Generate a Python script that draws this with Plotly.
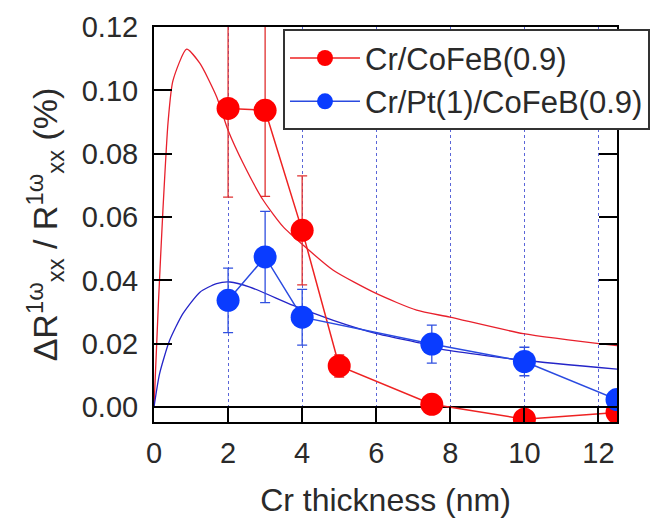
import plotly.graph_objects as go

# ---- data ----
thickness = [2, 3, 4, 5, 7.5, 10, 12.5]
cofeb_vals = [0.0943, 0.0937, 0.0558, 0.0130, 0.0009, -0.0038, -0.0017]
cofeb_err = [0.0280, 0.0272, 0.0172, 0.0035, 0.0, 0.0, 0.0]

thickness_pt = [2, 3, 4, 7.5, 10, 12.5]
pt_vals = [0.0337, 0.0474, 0.0284, 0.0199, 0.0144, 0.0024]
pt_err = [0.0102, 0.0144, 0.0088, 0.0060, 0.0045, 0.0]

# fitted curves
fit_cofeb_x = [0, 0.12, 0.24, 0.38, 0.51, 0.88, 1.24, 1.69, 2.0, 2.41, 2.95, 3.49,
               4.03, 4.84, 6.01, 7.09, 7.99, 9.97, 12.5]
fit_cofeb_y = [0, 0.033, 0.062, 0.090, 0.103, 0.113, 0.1085, 0.098, 0.0874, 0.0769,
               0.0653, 0.0569, 0.0511, 0.0432, 0.0358, 0.0306, 0.0284, 0.0232, 0.0194]

fit_pt_x = [0, 0.15, 0.42, 0.78, 1.24, 1.69, 2.05, 2.59, 3.76, 4.84, 6.01, 7.27,
            7.72, 9.97, 12.5]
fit_pt_y = [0, 0.0105, 0.021, 0.0295, 0.0363, 0.039, 0.0395, 0.0379, 0.0321, 0.0274,
            0.0232, 0.020, 0.0184, 0.0148, 0.0120]

x_ticks = [0, 2, 4, 6, 8, 10, 12]
y_ticks = [0.00, 0.02, 0.04, 0.06, 0.08, 0.10, 0.12]

names = ["Cr/CoFeB(0.9)", "Cr/Pt(1)/CoFeB(0.9)"]

FONT = "Liberation Sans, Arial, sans-serif"
TXT = "#2a2a2a"
RED = "#ff0000"
BLUE = "#0a3cff"

fig = go.Figure()

fig.add_trace(go.Scatter(x=fit_cofeb_x, y=fit_cofeb_y, mode="lines",
                         line=dict(color="#e8202c", width=1.3, shape="spline", smoothing=0.6),
                         showlegend=False, hoverinfo="skip"))
fig.add_trace(go.Scatter(x=fit_pt_x, y=fit_pt_y, mode="lines",
                         line=dict(color="#2424c8", width=1.3, shape="spline", smoothing=0.6),
                         showlegend=False, hoverinfo="skip"))

fig.add_trace(go.Scatter(x=thickness, y=cofeb_vals, mode="lines+markers", name=names[0],
                         line=dict(color="#ee2222", width=1.5),
                         marker=dict(color=RED, size=23, line=dict(width=0)),
                         error_y=dict(type="data", array=cofeb_err, visible=True,
                                      color="#e03030", thickness=1.3, width=5)))
fig.add_trace(go.Scatter(x=thickness_pt, y=pt_vals, mode="lines+markers", name=names[1],
                         line=dict(color="#2a4ae0", width=1.5),
                         marker=dict(color=BLUE, size=23, line=dict(width=0)),
                         error_y=dict(type="data", array=pt_err, visible=True,
                                      color="#3050e0", thickness=1.3, width=5)))

fig.update_layout(
    width=648, height=511,
    margin=dict(l=146, r=39, t=19, b=97, autoexpand=False),
    paper_bgcolor="white", plot_bgcolor="white",
    font=dict(family=FONT, size=29, color=TXT),
    showlegend=True,
    legend=dict(x=0.2786, y=0.994, xanchor="left", yanchor="top",
                bgcolor="white", bordercolor="#333333", borderwidth=2,
                font=dict(size=31, color=TXT), itemwidth=70,
                tracegroupgap=0),
    xaxis=dict(range=[0, 12.5], tickvals=x_ticks, ticktext=[str(v) for v in x_ticks],
               ticks="inside", ticklen=15, tickwidth=1.5, tickcolor="black",
               showline=True, linecolor="black", linewidth=2, mirror=True,
               showgrid=True, gridcolor="#5a66d8", griddash="dot", gridwidth=1,
               zeroline=False, ticklabelstandoff=4, automargin=False,
               title=dict(text="Cr thickness (nm)", font=dict(size=32), standoff=21)),
    xaxis2=dict(range=[0, 12.5], overlaying="x", side="top", tickvals=x_ticks,
                ticks="inside", ticklen=4, tickwidth=1.5, tickcolor="black",
                showticklabels=False, showgrid=False, zeroline=False, showline=False),
    yaxis=dict(range=[-0.0047, 0.12], tickvals=y_ticks,
               ticktext=[f"{v:.2f}" for v in y_ticks],
               ticks="inside", ticklen=18, tickwidth=1.5, tickcolor="black",
               showline=True, linecolor="black", linewidth=2, mirror="allticks",
               showgrid=False, zeroline=True, zerolinecolor="black", zerolinewidth=2,
               ticklabelstandoff=8, automargin=False,
               title=dict(text="ΔR<sup>1ω</sup><sub>xx</sub> / R<sup>1ω</sup><sub>xx</sub> (%)",
                          font=dict(size=34), standoff=14)),
)

fig.write_html("out.html")
